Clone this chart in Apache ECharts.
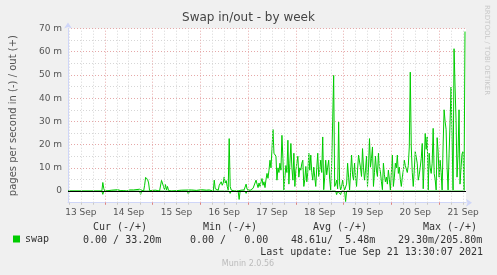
<!DOCTYPE html>
<html><head><meta charset="utf-8">
<script src="https://cdn.jsdelivr.net/npm/echarts@6/dist/echarts.min.js"></script>
<style>html,body{margin:0;padding:0;background:#f0f0f0}#c{width:497px;height:275px}</style>
</head><body><div id="c"></div>
<script>
// hours since 13 Sep 00:00
const dayLabels = ['13 Sep','14 Sep','15 Sep','16 Sep','17 Sep','18 Sep','19 Sep','20 Sep','21 Sep'];
const dayLabelHours = [12,36,60,84,108,132,156,180,204];
const yTickLabels = ['0','10 m','20 m','30 m','40 m','50 m','60 m','70 m'];

// swap out (pages/s, in milli-units), [hour, value]
const swapOut = [[5.5,0],[22.5,0],[23,3.7],[23.5,1.0],[24,0],
[27.5,0.4],[28,0],[30.5,0.6],[31,0],[31.5,0.8],[32,0.2],[33,0.9],[33.5,0.2],[34.5,0.3],[35,0],[36.5,0.5],[37,0],[38.5,0.5],[39,0],
[41.5,0.8],[42,0],[43.5,0],[44,2.5],[44.5,5.9],[45,5.2],[45.5,5.0],[46,3.5],[46.5,0.2],
[48,0.3],[48.5,0],[49.5,0.4],[50,0],[51.5,0],[52,0.5],[52.5,4.6],[53,3.8],[53.5,2.0],[54,0.6],[54.5,2.8],[55,0.5],[55.5,2.0],[56,0.3],[57,0.5],[57.5,0],
[62.5,0.4],[63,0],[67.5,0.5],[68,0],[70,0.3],[70.5,0],[72.5,0.6],[73,0],[75,0.4],[75.5,0],[76.5,0.5],[77,0],[78.5,0],
[79,4.7],[79.5,1.0],[80,0.3],[80.5,0.8],[81,0.4],[81.5,2.5],[82,3.0],[82.5,4.0],[83,2.5],[83.5,3.5],[84,6.1],[84.5,3.5],[85,4.5],[85.5,2.0],[86,0.5],[86.5,22.6],[87,2.0],[87.5,0.5],[88,0],[88.5,1.0],[89,0],[90,0.5],[90.5,0],
[92.5,0.4],[93,0],[94,0.5],[94.5,0],[95,3.0],[95.5,0.8],[96,0.2],[96.5,1.0],[97,0.3],[97.5,0.8],[98,0.3],[98.5,1.2],[99,0.4],[99.5,0.5],[100,4.7],[100.5,3.0],[101,1.5],[101.5,3.5],[102,2.0],[102.5,4.0],[103,5.4],[103.5,2.5],[104,4.0],[104.5,1.5],[105,5.0],[105.5,7.6],[106,5.5],[106.5,9.0],[107,13.3],[107.5,10.0],[108,18.0],[108.5,26.5],[109,16.3],[109.5,17.0],[110,15.0],[110.5,4.7],[111,10.0],[111.5,8.0],[112,12.0],[112.5,9.0],[113,24.0],[113.5,14.0],[114,0.5],[114.5,6.0],[115,11.0],[115.5,8.0],[116,21.9],[116.5,3.0],[117,12.0],[117.5,20.5],[118,10.0],[118.5,4.7],[119,16.3],[119.5,2.0],[120,9.0],[120.5,12.0],[121,15.0],[121.5,6.0],[122,10.0],[122.5,9.0],[123,12.0],[123.5,13.3],[124,2.0],[124.5,5.0],[125,10.6],[125.5,4.0],[126,8.0],[126.5,16.3],[127,9.0],
[127.5,15.5],[128,8.0],[128.5,4.7],[129,10.3],[129.5,6.0],[130,2.0],[130.5,10.0],[131,16.3],[131.5,6.3],[132,9.0],[132.5,13.3],[133,8.0],[133.5,23.3],[134,0.6],[134.5,6.0],[135,13.3],[135.5,7.0],[136,10.3],[136.5,13.3],[137,5.0],[137.5,0.5],[138,12.0],[138.5,30.0],[139,49.8],[139.5,2.0],[140,3.0],[140.5,4.7],[141,1.0],[141.5,29.7],[142,3.0],[142.5,0.5],[143,2.0],[143.5,4.7],[144,2.0],[144.5,0.5],[145,0],[145.5,3.0],[146,12.0],[146.5,6.0],[147,0.5],[147.5,8.0],[148,15.5],[148.5,7.0],[149,4.7],[149.5,12.0],[150,6.0],[150.5,2.0],[151,9.0],[151.5,15.5],[152,16.3],[152.5,10.0],[153,6.3],[153.5,18.3],[154,10.0],[154.5,4.7],[155,9.0],[155.5,15.0],[156,2.0],[156.5,10.0],[157,22.6],[157.5,10.3],[158,14.0],[158.5,19.0],[159,2.0],[159.5,8.0],[160,15.0],[160.5,9.0],[161,6.3],[161.5,16.3],[162,10.0],
[162.5,8.3],[163,4.0],[163.5,0.6],[164,12.0],[164.5,7.0],[165,4.0],[165.5,6.0],[166,3.0],[166.5,9.0],[167,5.0],[167.5,0.5],[168,8.0],[168.5,15.5],[169,2.0],[169.5,6.0],[170,12.0],[170.5,10.0],[171,15.5],[171.5,7.6],[172,10.3],[172.5,5.0],[173,2.0],[173.5,6.0],[174,9.0],[174.5,13.3],[175,11.0],[175.5,10.3],[176,8.0],[176.5,11.0],[177,19.0],[177.5,51.2],[178,19.0],[178.5,8.0],[179,2.0],[179.5,9.0],[180,17.0],[180.5,16.3],[181,12.0],[181.5,4.7],[182,7.0],[182.5,10.3],[183,14.0],[183.5,20.5],[184,1.0],[184.5,12.0],[185,24.8],[185.5,18.0],[186,23.3],[186.5,0.5],[187,16.3],[187.5,10.0],[188,7.6],[188.5,12.0],[189,27.0],[189.5,7.6],[190,5.0],[190.5,0.5],[191,23.0],[191.5,17.0],[192,6.0],[192.5,13.3],[193,8.0],[193.5,0.5],[194,20.0],[194.5,35.0],[195,30.0],[195.5,26.6],[196,10.0],[196.5,0.5],[197,16.0],[197.5,30.0],[198,44.8],[198.5,45.5],[199,0.5],[199.5,61.3],[200,45.0],[200.5,30.5],[201,6.0],[201.5,16.0],[202,35.0],[202.5,3.0],[203,10.0],[203.5,16.0],[204,17.0],[204.5,0.5],[205,68.7]];

// swap in (plotted below zero), [hour, value]
const swapIn = [[5.5,0],[22.5,0],[23,1.4],[23.5,0],[41.5,0],[42,1.4],[42.5,0],[65.5,0],[66,1.3],[66.5,0],
[86.5,0],[87,1.0],[87.5,0],[91,0],[91.5,3.6],[92,0],[94.5,0],[95,1.0],[95.5,0],[113.5,0],[114,0.8],[114.5,0],
[137,0],[137.5,0.6],[138,0],[140,0],[140.5,1.5],[141,0],[142,0],[142.5,1.5],[143,0],[144.5,0],[145,4.5],[145.5,0],
[163,0],[163.5,0.8],[164,0],[169.5,0],[170,0.8],[170.5,0],[186,0],[186.5,0.8],[187,0],[205,0]];

const statHeaders = ['Cur (-/+)','Min (-/+)','Avg (-/+)','Max (-/+)'];
const statValues = ['0.00 / 33.20m','0.00 /   0.00','48.61u/  5.48m','29.30m/205.80m'];
const lastUpdate = 'Last update: Tue Sep 21 13:30:07 2021';

const MINOR = '#d6d6d6', MAJOR = '#e6a8a8', AXIS = '#cfd6f8', GREEN = '#00cc00';
const gridHours = [], midnightHours = [];
for (let h = 6; h <= 204; h += 6) { gridHours.push(h); if (h % 24 === 0) midnightHours.push(h); }
const vLines = gridHours.map(h => ({xAxis: h, lineStyle: {color: h % 24 === 0 ? MAJOR : MINOR, type: [1, 2], width: 1}}));

const headerX = [120, 230, 340, 450];
const valueX = [83, 190, 291, 398];
const graphics = [];
statHeaders.forEach((t, i) => graphics.push({type:'text', x: headerX[i], y: 227, silent:true,
  style:{text:t, font:'10px "DejaVu Sans Mono"', fill:'#333', textAlign:'center', textVerticalAlign:'middle'}}));
statValues.forEach((t, i) => graphics.push({type:'text', x: valueX[i], y: 240, silent:true,
  style:{text:t, font:'10px "DejaVu Sans Mono"', fill:'#333', textAlign:'left', textVerticalAlign:'middle'}}));
graphics.push({type:'text', x: 483, y: 252, silent:true,
  style:{text:lastUpdate, font:'10px "DejaVu Sans Mono"', fill:'#333', textAlign:'right', textVerticalAlign:'middle'}});
graphics.push({type:'text', x: 248, y: 264, silent:true,
  style:{text:'Munin 2.0.56', font:'8px "DejaVu Sans"', fill:'#bbb', textAlign:'center', textVerticalAlign:'middle'}});
graphics.push({type:'text', x: 487, y: 5, rotation: -Math.PI/2, silent:true,
  style:{text:'RRDTOOL / TOBI OETIKER', font:'7px "DejaVu Sans"', fill:'#c8c8c8', textAlign:'left', textVerticalAlign:'middle'}});

const chart = echarts.init(document.getElementById('c'));
chart.setOption({
  backgroundColor: '#f0f0f0',
  animation: false,
  title: {text: 'Swap in/out - by week', left: 'center', top: 12, padding: 0,
    textStyle: {fontFamily: 'DejaVu Sans', fontSize: 12, fontWeight: 'normal', color: '#444'}},
  legend: {data: ['swap'], left: 13, top: 234, icon: 'rect', itemWidth: 7, itemHeight: 7, padding: 0,
    selectedMode: false, textStyle: {fontFamily: 'DejaVu Sans Mono', fontSize: 10, color: '#333'}},
  grid: {left: 66, right: 31, top: 28.5, bottom: 72.3, show: true, backgroundColor: '#fff', borderWidth: 0},
  xAxis: [{type: 'value', min: 5.5, max: 205.5, position: 'bottom',
    axisLine: {show: true, onZero: false, lineStyle: {color: AXIS}, symbol: ['none', 'arrow'], symbolSize: [6, 6], symbolOffset: [0, 6]},
    axisTick: {show: true, customValues: gridHours, length: 2, lineStyle: {color: '#c8c8c8'}},
    axisLabel: {customValues: dayLabelHours, formatter: v => dayLabels[dayLabelHours.indexOf(v)] || '',
      color: '#555', fontSize: 9, fontFamily: 'DejaVu Sans', margin: 5},
    splitLine: {show: false}},
   {type: 'value', min: 5.5, max: 205.5, position: 'bottom', offset: 0,
    axisLine: {show: false, onZero: false},
    axisTick: {show: true, customValues: midnightHours, length: 2, lineStyle: {color: '#e08080'}},
    axisLabel: {show: false}, splitLine: {show: false}}],
  yAxis: {type: 'value', min: -5, max: 70, interval: 5,
    name: 'pages per second in (-) / out (+)', nameLocation: 'middle', nameGap: 50, nameRotate: 90,
    nameTextStyle: {fontFamily: 'DejaVu Sans', fontSize: 10, color: '#555'},
    axisLine: {show: true, onZero: false, lineStyle: {color: AXIS}, symbol: ['none', 'arrow'], symbolSize: [6, 6], symbolOffset: [0, 6]},
    axisTick: {show: false},
    axisLabel: {formatter: v => (v >= 0 && v % 10 === 0) ? yTickLabels[v / 10] : '',
      color: '#555', fontSize: 9, fontFamily: 'DejaVu Sans', margin: 6},
    splitLine: {show: true, lineStyle: {color: [MINOR, MAJOR], type: [1, 2], width: 1}}},
  graphic: graphics,
  series: [
    {type: 'line', data: [], z: 1, silent: true,
      markLine: {silent: true, symbol: 'none', label: {show: false}, animation: false, data: vLines}},
    {name: 'swap', type: 'line', data: swapOut, showSymbol: false, z: 3,
      lineStyle: {color: GREEN, width: 1}, itemStyle: {color: GREEN}},
    {name: 'swap', type: 'line', data: swapIn.map(p => [p[0], -p[1]]), showSymbol: false, z: 3,
      lineStyle: {color: GREEN, width: 1}, itemStyle: {color: GREEN}},
    {type: 'line', data: [], z: 5, silent: true,
      markLine: {silent: true, symbol: 'none', label: {show: false}, animation: false,
        data: [{yAxis: 0}], lineStyle: {color: '#000', width: 1, type: 'solid'}}}
  ]
});
</script></body></html>
